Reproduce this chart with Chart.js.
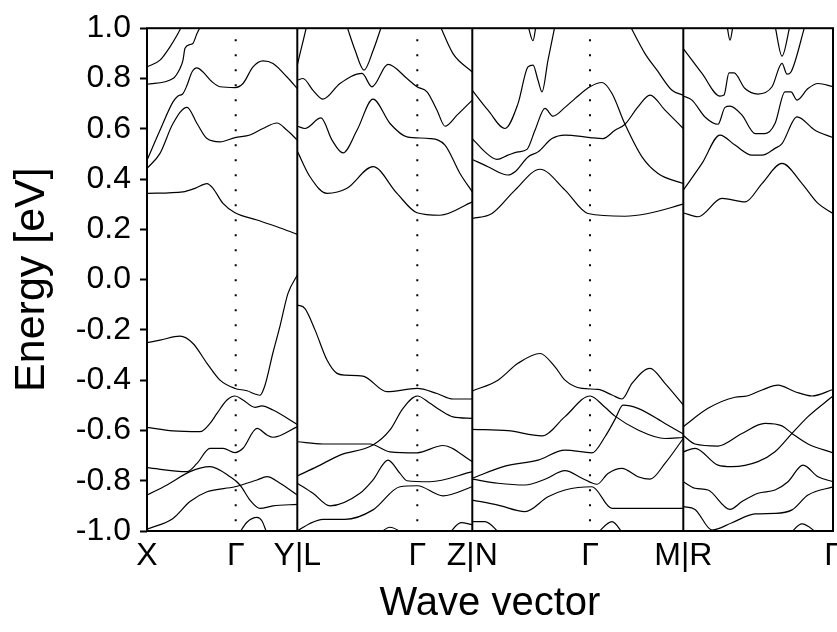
<!DOCTYPE html>
<html>
<head>
<meta charset="utf-8">
<script src="https://cdn.jsdelivr.net/npm/chart.js@4"></script>
<style>
  body { margin: 0; background: #fff; }
  #wrap { width: 837px; height: 632px; }
</style>
</head>
<body>
<div id="wrap"><canvas id="bands"></canvas></div>
<script>
// k-path positions of the high-symmetry points and their labels
const kTicks = [0, 88.7, 150.3, 270.3, 325.3, 443, 536.3, 686];
const kLabels = ['X', 'Γ', 'Y|L', 'Γ', 'Z|N', 'Γ', 'M|R', 'Γ'];
const panelEdges = [150.3, 325.3, 536.3];
const gammaLines = [88.7, 270.3, 443];
const eTicks = [-1.0, -0.8, -0.6, -0.4, -0.2, 0.0, 0.2, 0.4, 0.6, 0.8, 1.0];

// bands, [k, E(eV)], one list per path segment
const bandsXY = [
  [[0,0.846],[13,0.873],[23,0.926],[30,0.972],[35,1.01]],
  [[0,0.777],[26,0.80],[33,0.84],[36,0.873],[38,0.92],[43,0.935],[46,0.94],[50,0.979],[54,1.01]],
  [[0,0.475],[13,0.594],[26,0.707],[31,0.73],[36,0.74],[40,0.773],[45,0.826],[50,0.842],[56,0.826],[65,0.787],[73,0.767],[88,0.764],[96,0.78],[106,0.846],[116,0.87],[126,0.86],[140,0.806],[150.3,0.76]],
  [[0,0.442],[13,0.502],[26,0.621],[40,0.685],[50,0.621],[60,0.561],[73,0.548],[88,0.565],[103,0.575],[116,0.601],[130,0.623],[140,0.594],[150.3,0.555]],
  [[0,0.343],[36,0.349],[48,0.363],[60,0.382],[66,0.363],[76,0.303],[88,0.266],[110,0.237],[130,0.21],[150.3,0.18]],
  [[0,-0.251],[13,-0.241],[33,-0.225],[46,-0.254],[60,-0.333],[73,-0.40],[88,-0.433],[100,-0.442],[108,-0.455],[113,-0.46],[118,-0.42],[126,-0.29],[133,-0.185],[141,-0.055],[150.3,0.018]],
  [[0,-0.588],[26,-0.602],[53,-0.605],[63,-0.572],[70,-0.532],[80,-0.479],[88,-0.463],[96,-0.479],[108,-0.508],[115,-0.502],[126,-0.519],[150.3,-0.576]],
  [[0,-0.748],[40,-0.764],[50,-0.731],[63,-0.671],[76,-0.671],[88,-0.688],[96,-0.671],[110,-0.592],[120,-0.618],[126,-0.627],[150.3,-0.585]],
  [[0,-0.857],[20,-0.817],[43,-0.764],[63,-0.744],[83,-0.784],[93,-0.817],[103,-0.877],[113,-0.91],[126,-0.90],[150.3,-0.894]],
  [[0,-0.993],[26,-0.95],[43,-0.883],[60,-0.844],[88,-0.824],[110,-0.797],[120,-0.784],[133,-0.81],[150.3,-0.857]],
  [[92,-1.01],[100,-0.965],[110,-0.946],[115,-0.96],[120,-1.01]]
];
const bandsLZ = [
  [[150.3,0.853],[153,0.899],[156.3,0.952],[159.7,1.01]],
  [[199.7,1.01],[208,0.913],[217,0.833],[226.3,0.913],[234.7,1.01]],
  [[150.3,0.793],[156,0.80],[166,0.753],[176,0.718],[193,0.78],[215,0.82],[225,0.767],[241,0.856],[260,0.80],[270,0.767],[280,0.747],[290,0.674],[298,0.61],[310,0.654],[325.3,0.714]],
  [[150.3,0.61],[158,0.601],[174,0.643],[185,0.555],[196,0.504],[210,0.594],[226,0.718],[243,0.621],[260,0.568],[283,0.561],[298,0.535],[313,0.422],[325.3,0.349]],
  [[293,1.01],[306,0.899],[325.3,0.826]],
  [[150.3,0.511],[163,0.409],[180,0.343],[200,0.363],[226,0.449],[250,0.343],[270,0.266],[293,0.256],[325.3,0.309]],
  [[150.3,-0.101],[158,-0.115],[168,-0.2],[180,-0.32],[190,-0.373],[198,-0.38],[216,-0.384],[240,-0.446],[270,-0.433],[290,-0.453],[306,-0.475],[325.3,-0.475]],
  [[150.3,-0.781],[170,-0.744],[193,-0.698],[226,-0.658],[243,-0.598],[256,-0.512],[270.3,-0.463],[283,-0.492],[293,-0.519],[306,-0.546],[325.3,-0.552]],
  [[150.3,-0.645],[176,-0.654],[223,-0.654],[243,-0.685],[270,-0.689],[296,-0.66],[325.3,-0.724]],
  [[150.3,-0.81],[166,-0.85],[183,-0.90],[213,-0.85],[226,-0.797],[241,-0.718],[253,-0.771],[260,-0.80],[283,-0.804],[325.3,-0.764]],
  [[150.3,-1.0],[163,-0.97],[176,-0.954],[198,-0.954],[226,-0.916],[253,-0.824],[270.3,-0.82],[296,-0.86],[325.3,-0.824]],
  [[232,-1.01],[243,-0.985],[257,-1.01]],
  [[302,-1.01],[314,-0.967],[325.3,-0.975]]
];
const bandsNM = [
  [[325.3,0.753],[341,0.674],[358,0.601],[371,0.70],[381,0.846],[386,0.853],[391,0.793],[395,0.747],[401,0.873],[408,1.01]],
  [[381,1.01],[386,0.95],[389,1.01]],
  [[325.3,0.561],[338,0.508],[350,0.478],[361,0.495],[371,0.508],[380,0.518],[388,0.594],[398,0.681],[406,0.65],[418,0.685],[428,0.72],[443,0.767],[455,0.784],[465,0.74],[478,0.618],[495,0.488],[511,0.422],[536.3,0.382]],
  [[325.3,0.478],[341,0.449],[361,0.416],[368,0.429],[381,0.488],[391,0.508],[405,0.561],[418,0.575],[443,0.565],[456,0.561],[468,0.594],[478,0.618],[491,0.687],[503,0.734],[518,0.674],[536.3,0.601]],
  [[325.3,0.243],[345,0.263],[368,0.356],[393,0.439],[418,0.356],[441,0.263],[478,0.252],[501,0.263],[536.3,0.30]],
  [[483,1.01],[498,0.899],[510,0.833],[525,0.753],[536.3,0.734]],
  [[325.3,-0.443],[351,-0.40],[371,-0.333],[393,-0.294],[408,-0.347],[418,-0.40],[435,-0.433],[451,-0.437],[465,-0.459],[475,-0.475],[485,-0.413],[503,-0.353],[518,-0.413],[536.3,-0.499]],
  [[325.3,-0.596],[361,-0.601],[395,-0.622],[418,-0.545],[443,-0.463],[458,-0.508],[468,-0.543],[491,-0.598],[518,-0.632],[536.3,-0.628]],
  [[325.3,-0.79],[358,-0.742],[391,-0.718],[418,-0.678],[445,-0.689],[458,-0.625],[468,-0.556],[476,-0.499],[491,-0.512],[518,-0.572],[536.3,-0.614]],
  [[325.3,-0.794],[351,-0.81],[378,-0.817],[398,-0.794],[418,-0.76],[435,-0.79],[450,-0.814],[461,-0.771],[475,-0.751],[491,-0.784],[503,-0.794],[518,-0.731],[536.3,-0.632]],
  [[325.3,-0.877],[351,-0.897],[378,-0.923],[401,-0.864],[418,-0.837],[445,-0.824],[465,-0.91],[491,-0.91],[536.3,-0.91]],
  [[325.3,-0.963],[338,-0.963],[353,-1.01]],
  [[450,-1.01],[465,-0.963],[476,-1.01]]
];
const bandsRG = [
  [[536.3,0.919],[555,0.82],[573,0.73],[577,0.734],[582,0.822],[587,0.822],[598,0.76],[611,0.738],[625,0.767],[635,0.86],[640,0.817],[644,0.826],[658,1.01]],
  [[580,1.01],[583,0.952],[586,1.01]],
  [[628,1.01],[635,0.889],[643,1.01]],
  [[536.3,0.73],[545,0.714],[558,0.647],[571,0.618],[578,0.685],[583,0.69],[595,0.654],[608,0.581],[618,0.581],[628,0.621],[638,0.747],[644,0.747],[650,0.714],[661,0.76],[671,0.78],[686,0.767]],
  [[536.3,0.356],[555,0.462],[573,0.575],[588,0.535],[605,0.495],[615,0.495],[628,0.522],[635,0.541],[650,0.647],[668,0.594],[686,0.565]],
  [[536.3,0.266],[551,0.25],[575,0.323],[598,0.309],[615,0.382],[635,0.462],[655,0.382],[671,0.303],[686,0.263]],
  [[536.3,-0.585],[561,-0.512],[588,-0.468],[600,-0.463],[615,-0.439],[631,-0.42],[648,-0.446],[665,-0.463],[686,-0.437]],
  [[536.3,-0.62],[548,-0.654],[571,-0.662],[595,-0.612],[618,-0.572],[635,-0.582],[645,-0.612],[661,-0.654],[686,-0.689]],
  [[536.3,-0.685],[548,-0.671],[571,-0.738],[585,-0.744],[611,-0.724],[628,-0.685],[645,-0.612],[661,-0.545],[686,-0.463]],
  [[536.3,-0.804],[548,-0.83],[561,-0.837],[583,-0.914],[595,-0.883],[611,-0.85],[628,-0.837],[641,-0.804],[656,-0.738],[671,-0.784],[686,-0.804]],
  [[536.3,-0.903],[548,-0.914],[565,-0.996],[585,-0.967],[608,-0.932],[628,-0.93],[645,-0.916],[661,-0.857],[686,-0.824]],
  [[643,-1.01],[655,-0.972],[671,-1.01]]
];

const FONT = "'Liberation Sans', Arial, sans-serif";

const bandSets = [...bandsXY, ...bandsLZ, ...bandsNM, ...bandsRG].map(b => ({
  data: b.map(([x, y]) => ({ x, y })),
  borderColor: '#000',
  borderWidth: 1.2,
  pointRadius: 0,
  cubicInterpolationMode: 'monotone',
  fill: false
}));

// vertical markers: solid at the path breaks, dotted at Gamma
const edgeSets = panelEdges.map(k => ({
  data: [{ x: k, y: 1 }, { x: k, y: -1 }],
  borderColor: '#000', borderWidth: 2, pointRadius: 0, tension: 0
}));
const gammaSets = gammaLines.map(k => ({
  data: [{ x: k, y: 1 }, { x: k, y: -1 }],
  borderColor: '#000', borderWidth: 2, pointRadius: 0, tension: 0,
  borderDash: [2, 13], borderDashOffset: 4
}));

// frame round the plot area
const frame = {
  id: 'frame',
  afterDatasetsDraw(chart) {
    const { ctx, chartArea: a } = chart;
    ctx.save();
    ctx.strokeStyle = '#000';
    ctx.lineWidth = 2;
    ctx.strokeRect(a.left, a.top, a.right - a.left, a.bottom - a.top);
    ctx.restore();
  }
};

new Chart(document.getElementById('bands'), {
  type: 'line',
  data: { datasets: [...gammaSets, ...edgeSets, ...bandSets] },
  options: {
    responsive: true,
    maintainAspectRatio: false,
    animation: false,
    layout: { padding: { top: 28, right: 4, left: 0, bottom: 0 } },
    plugins: { legend: { display: false }, tooltip: { enabled: false } },
    scales: {
      x: {
        type: 'linear',
        min: 0,
        max: 686,
        afterBuildTicks: s => { s.ticks = kTicks.map(v => ({ value: v })); },
        afterFit: s => { s.height = 101; s.paddingLeft = 0; s.paddingRight = 0; },
        grid: { drawOnChartArea: false, drawTicks: false },
        border: { display: false },
        ticks: {
          autoSkip: false,
          maxRotation: 0,
          padding: 6,
          color: '#000',
          font: { family: FONT, size: 32 },
          callback: (v, i) => kLabels[i]
        },
        title: {
          display: true,
          text: 'Wave vector',
          color: '#000',
          font: { family: FONT, size: 40 },
          padding: { top: 0, bottom: 4 }
        }
      },
      y: {
        min: -1,
        max: 1,
        afterBuildTicks: s => { s.ticks = eTicks.map(v => ({ value: v })); },
        afterFit: s => { s.width = 147; },
        grid: { drawOnChartArea: false, drawTicks: true, tickLength: 7, tickColor: '#000', tickWidth: 2 },
        border: { display: false },
        ticks: {
          padding: 9,
          color: '#000',
          font: { family: FONT, size: 32 },
          callback: v => v.toFixed(1)
        },
        title: {
          display: true,
          text: 'Energy [eV]',
          color: '#000',
          font: { family: FONT, size: 43 },
          padding: { top: 6, bottom: 0 }
        }
      }
    }
  },
  plugins: [frame]
});
</script>
</body>
</html>
